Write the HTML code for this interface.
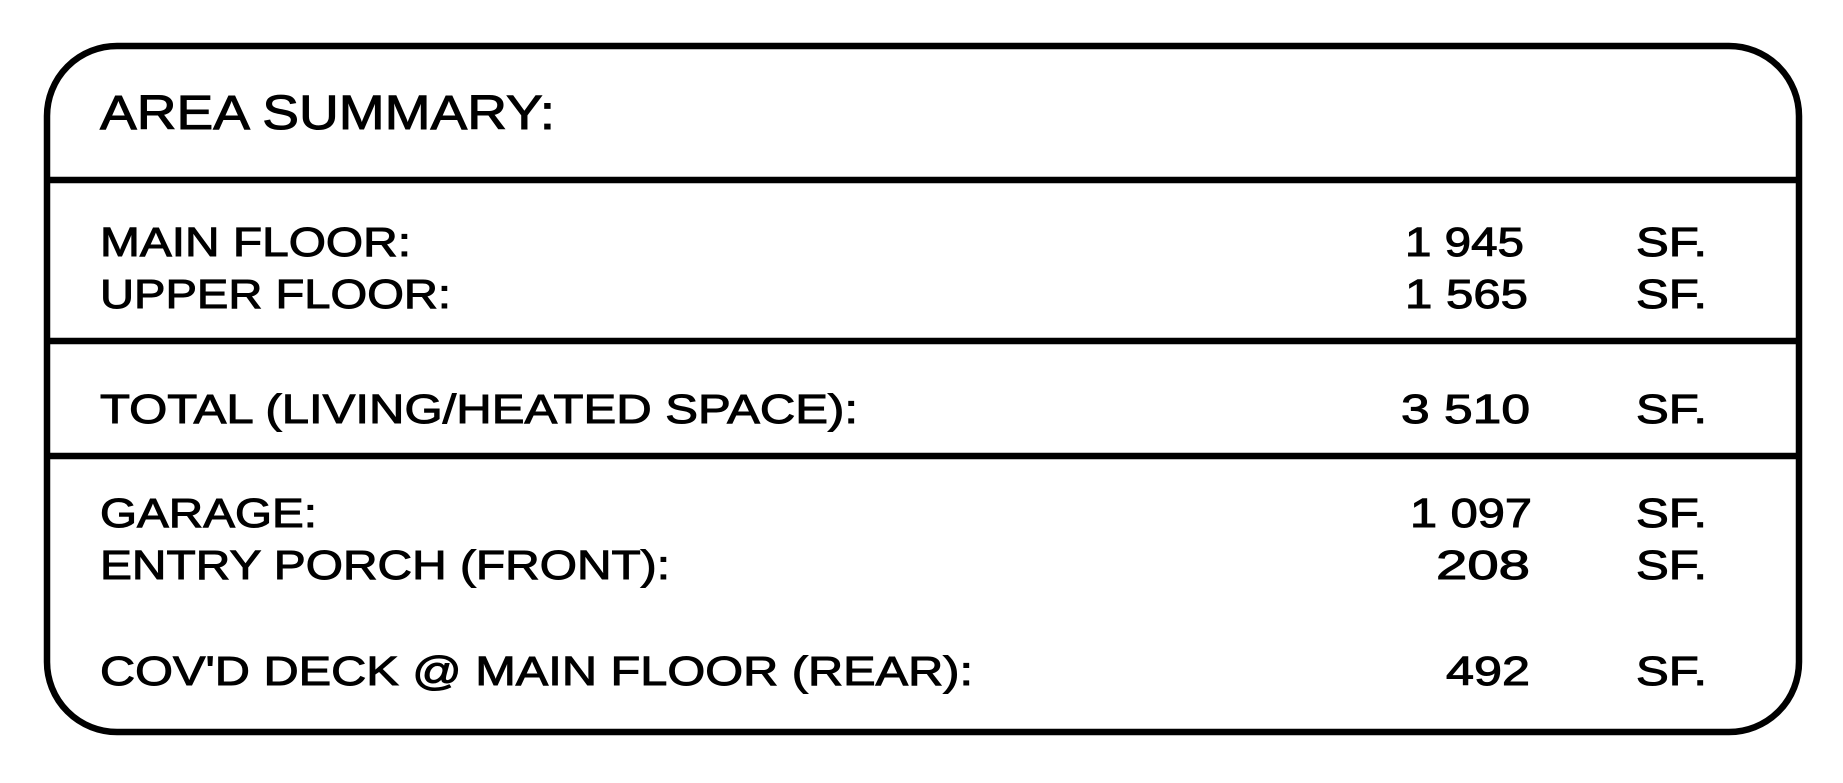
<!DOCTYPE html>
<html><head><meta charset="utf-8"><style>
html,body{margin:0;padding:0;background:#fff;}
svg{display:block;}
text{font-family:"Liberation Sans",sans-serif;fill:#000;stroke:#000;stroke-width:1;}
</style></head><body>
<svg width="1843" height="783" viewBox="0 0 1843 783" xmlns="http://www.w3.org/2000/svg">
<rect x="0" y="0" width="1843" height="783" fill="#fff"/>
<rect x="47" y="46" width="1752" height="686" rx="70" ry="70" fill="none" stroke="#000" stroke-width="6.5"/>
<line x1="47" y1="180" x2="1799" y2="180" stroke="#000" stroke-width="6.5"/>
<line x1="47" y1="341" x2="1799" y2="341" stroke="#000" stroke-width="6.5"/>
<line x1="47" y1="456" x2="1799" y2="456" stroke="#000" stroke-width="6.5"/>
<g font-size="48">
<text x="100" y="129" textLength="455" lengthAdjust="spacingAndGlyphs">AREA SUMMARY:</text>
</g>
<g font-size="41">
<text x="100" y="256" textLength="311" lengthAdjust="spacingAndGlyphs">MAIN FLOOR:</text>
<text x="100" y="308" textLength="351" lengthAdjust="spacingAndGlyphs">UPPER FLOOR:</text>
<text x="100" y="423" textLength="758" lengthAdjust="spacingAndGlyphs">TOTAL (LIVING/HEATED SPACE):</text>
<text x="100" y="527" textLength="217" lengthAdjust="spacingAndGlyphs">GARAGE:</text>
<text x="100" y="579" textLength="570" lengthAdjust="spacingAndGlyphs">ENTRY PORCH (FRONT):</text>
<text x="100" y="685" textLength="873" lengthAdjust="spacingAndGlyphs">COV'D DECK @ MAIN FLOOR (REAR):</text>

<text x="1405" y="256" textLength="119" lengthAdjust="spacingAndGlyphs">1 945</text>
<text x="1405" y="308" textLength="123" lengthAdjust="spacingAndGlyphs">1 565</text>
<text x="1401" y="423" textLength="129" lengthAdjust="spacingAndGlyphs">3 510</text>
<text x="1410" y="527" textLength="122" lengthAdjust="spacingAndGlyphs">1 097</text>
<text x="1436" y="579" textLength="94" lengthAdjust="spacingAndGlyphs">208</text>
<text x="1446" y="685" textLength="84" lengthAdjust="spacingAndGlyphs">492</text>

<text x="1636" y="256" textLength="71" lengthAdjust="spacingAndGlyphs">SF.</text>
<text x="1636" y="308" textLength="71" lengthAdjust="spacingAndGlyphs">SF.</text>
<text x="1636" y="423" textLength="71" lengthAdjust="spacingAndGlyphs">SF.</text>
<text x="1636" y="527" textLength="71" lengthAdjust="spacingAndGlyphs">SF.</text>
<text x="1636" y="579" textLength="71" lengthAdjust="spacingAndGlyphs">SF.</text>
<text x="1636" y="685" textLength="71" lengthAdjust="spacingAndGlyphs">SF.</text>
</g>
</svg>
</body></html>
